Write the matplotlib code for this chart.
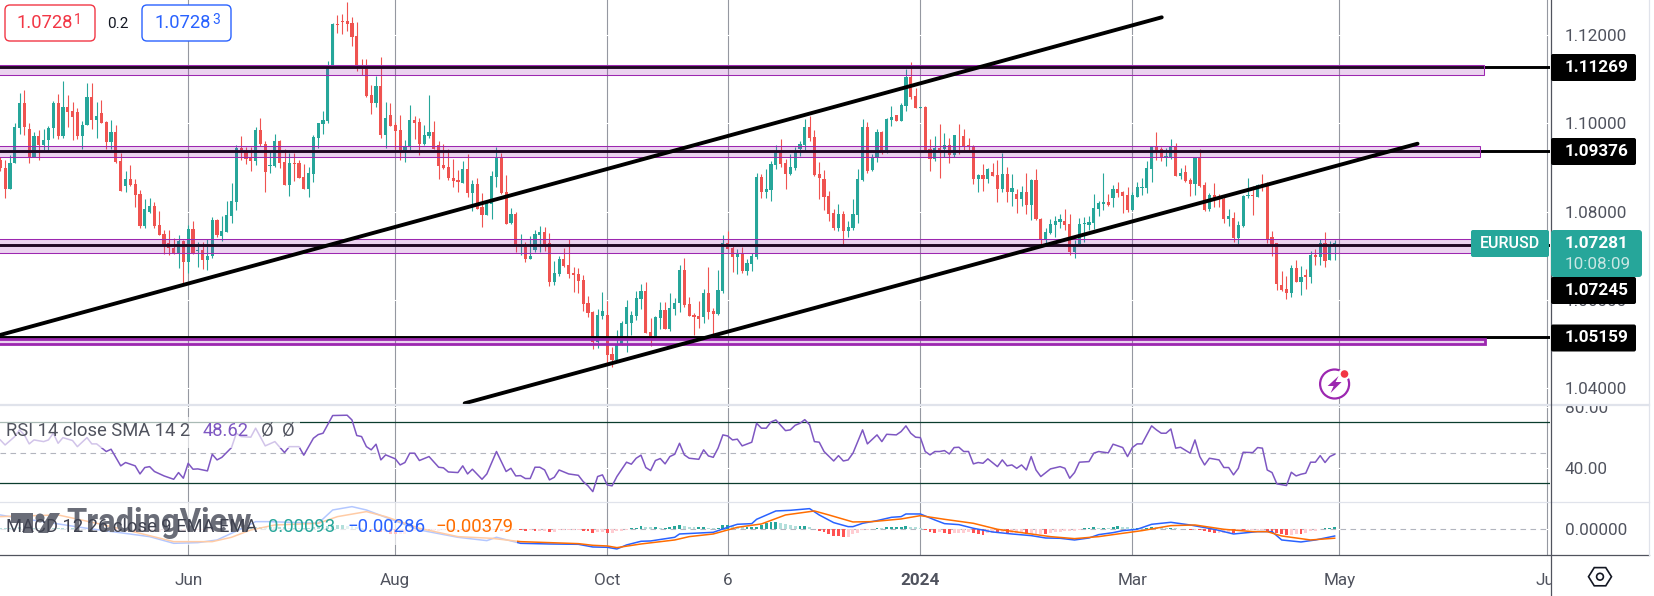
import numpy as np
import matplotlib
matplotlib.use("Agg")
import matplotlib.pyplot as plt
from matplotlib.patches import Rectangle, FancyBboxPatch, Circle, Polygon

plt.rcParams['font.family'] = ['Roboto', 'DejaVu Sans']

W, H = 1654, 596

# daily candles, prices in pips (1.0850 = 10850)
highs = [
    10924,10918,10928,11000,11068,11075,11000,10981,10984,10986,10994,11050,11067,11096,11064,11049,11034,11006,11091,11091,
    11049,11052,11005,11007,10997,10932,10891,10905,10873,10848,10828,10831,10821,10801,10758,10758,10741,10746,10735,10769,
    10779,10732,10732,10739,10788,10784,10790,10824,10864,10952,10971,10947,10947,10991,11012,10960,10938,10975,10962,10942,
    10932,10932,10917,10908,10901,10973,11000,11028,11141,11227,11245,11247,11274,11240,11229,11145,11145,11086,11107,11150,
    11048,11046,11003,11018,10962,11041,11016,11012,10996,11064,11005,10960,10953,10942,10919,10894,10914,10930,10871,10876,
    10842,10821,10892,10946,10932,10883,10808,10799,10749,10731,10744,10758,10767,10765,10751,10688,10699,10717,10738,10674,
    10672,10656,10609,10575,10579,10618,10597,10493,10532,10552,10600,10575,10620,10636,10640,10559,10563,10595,10595,10615,
    10604,10679,10695,10606,10570,10597,10624,10674,10581,10667,10747,10756,10722,10715,10720,10692,10706,10887,10885,10896,
    10914,10951,10964,10919,10930,10946,10960,11009,11016,10985,10912,10894,10846,10806,10817,10801,10778,10828,10896,11009,
    11003,10930,10987,10982,11012,11039,11018,11045,11123,11139,11080,11036,11039,10964,10971,10998,10978,10966,10973,10998,
    10987,10966,10951,10885,10908,10898,10910,10917,10932,10901,10885,10851,10858,10887,10874,10896,10785,10763,10783,10790,
    10794,10806,10794,10735,10785,10787,10790,10840,10824,10887,10840,10860,10867,10846,10855,10844,10867,10876,10914,10946,
    10980,10946,10944,10964,10955,10898,10905,10876,10923,10941,10867,10842,10864,10840,10833,10806,10799,10778,10837,10876,
    10858,10862,10885,10867,10756,10729,10665,10654,10679,10690,10676,10670,10710,10715,10738,10753,10733,10735]
body_top = [
    10918,10898,10909,10992,11045,11045,10988,10971,10971,10963,10989,11046,11046,11037,11037,11027,11025,10997,11059,11059,
    11016,11023,11003,10980,10980,10914,10873,10873,10862,10840,10805,10812,10812,10769,10749,10729,10718,10733,10733,10760,
    10760,10713,10713,10699,10781,10781,10756,10792,10824,10944,10944,10935,10923,10985,10985,10954,10905,10960,10960,10912,
    10910,10910,10910,10878,10887,10969,11000,11007,11125,11225,11225,11231,11231,11227,11197,11130,11132,11064,11084,11084,
    11012,11019,10996,10985,10947,11007,11007,11003,10973,10980,10980,10951,10905,10901,10877,10871,10896,10896,10862,10862,
    10811,10817,10880,10921,10921,10844,10794,10794,10726,10720,10699,10749,10754,10754,10729,10661,10692,10692,10679,10661,
    10658,10645,10593,10572,10565,10575,10565,10477,10498,10547,10584,10565,10604,10620,10620,10527,10561,10577,10577,10581,
    10593,10667,10667,10590,10565,10563,10615,10615,10575,10622,10729,10729,10717,10706,10706,10683,10699,10878,10878,10851,
    10907,10932,10932,10910,10901,10935,10953,10991,10991,10969,10885,10874,10835,10797,10794,10794,10765,10794,10874,10991,
    10991,10921,10980,10980,11009,11014,11018,11041,11105,11105,11062,11036,11037,10942,10944,10944,10951,10951,10973,10972,
    10971,10951,10947,10883,10883,10896,10889,10883,10885,10885,10853,10840,10844,10844,10871,10871,10783,10754,10772,10778,
    10783,10778,10772,10724,10772,10774,10776,10808,10819,10821,10821,10851,10851,10844,10837,10837,10855,10855,10898,10946,
    10946,10942,10926,10946,10946,10887,10889,10871,10921,10921,10860,10837,10837,10831,10828,10790,10785,10769,10835,10837,
    10837,10860,10862,10864,10742,10729,10633,10624,10672,10672,10652,10656,10701,10701,10729,10729,10722,10728]
body_bot = [
    10898,10851,10851,10909,10990,10992,10923,10923,10951,10951,10963,10990,10972,10971,11025,11014,10971,10971,10996,11007,
    11007,11000,10958,10958,10912,10846,10858,10860,10837,10767,10767,10800,10768,10747,10727,10717,10704,10704,10686,10686,
    10704,10711,10690,10690,10699,10746,10744,10754,10790,10821,10939,10919,10914,10914,10953,10889,10904,10903,10910,10860,
    10860,10908,10876,10851,10851,10885,10966,10998,11005,11130,11223,11230,11225,11195,11130,11128,11062,11046,11046,10973,
    10973,10994,10982,10939,10939,10947,11000,10953,10953,10971,10942,10903,10898,10876,10869,10867,10864,10842,10842,10807,
    10792,10792,10818,10878,10842,10772,10774,10726,10724,10692,10692,10713,10747,10726,10640,10640,10658,10676,10658,10656,
    10642,10590,10570,10504,10504,10563,10475,10464,10464,10498,10545,10547,10563,10602,10525,10518,10518,10559,10534,10534,
    10579,10593,10588,10563,10561,10556,10561,10572,10568,10568,10620,10715,10697,10697,10665,10665,10681,10697,10844,10844,
    10849,10905,10907,10885,10885,10898,10942,10951,10966,10883,10876,10833,10794,10763,10763,10756,10756,10763,10792,10871,
    10892,10894,10921,10932,10939,11007,11005,11005,11039,11059,11034,11035,10939,10920,10920,10939,10942,10928,10928,10971,
    10948,10946,10874,10874,10874,10874,10880,10851,10851,10844,10844,10828,10828,10815,10815,10783,10738,10738,10751,10769,
    10776,10769,10708,10708,10726,10772,10769,10774,10806,10818,10815,10830,10842,10835,10803,10803,10833,10854,10853,10896,
    10937,10923,10923,10921,10880,10880,10869,10862,10862,10858,10803,10806,10830,10828,10783,10783,10740,10740,10767,10835,
    10836,10833,10859,10738,10726,10636,10622,10615,10615,10640,10640,10652,10652,10697,10697,10688,10690,10722]
lows = [
    10892,10831,10851,10909,10976,10974,10911,10923,10917,10939,10939,10966,10965,10967,10992,10962,10965,10942,10996,10987,
    10966,11000,10942,10942,10909,10846,10845,10858,10810,10763,10762,10796,10762,10747,10705,10701,10704,10673,10637,10660,
    10704,10675,10669,10667,10696,10743,10734,10754,10775,10803,10917,10908,10892,10905,10948,10844,10887,10901,10898,10860,
    10835,10869,10876,10851,10833,10867,10944,10975,11000,11130,11204,11202,11209,11175,11118,11109,11059,11021,11037,10966,
    10944,10994,10942,10917,10912,10939,10964,10928,10951,10966,10942,10874,10896,10871,10855,10844,10864,10833,10801,10806,
    10765,10792,10783,10855,10839,10772,10772,10708,10701,10686,10692,10708,10708,10710,10631,10633,10654,10674,10649,10618,
    10615,10575,10561,10488,10491,10556,10452,10448,10464,10498,10482,10520,10554,10579,10525,10495,10518,10534,10534,10529,
    10566,10572,10584,10563,10520,10536,10547,10556,10520,10566,10615,10715,10663,10658,10661,10656,10665,10692,10830,10830,
    10824,10896,10901,10851,10883,10894,10926,10937,10960,10880,10828,10803,10778,10758,10756,10726,10742,10758,10774,10869,
    10887,10892,10912,10930,10932,10994,11005,11005,11028,11055,11034,11035,10939,10892,10914,10876,10923,10910,10923,10930,
    10939,10939,10862,10844,10846,10864,10880,10821,10844,10821,10812,10797,10812,10794,10781,10781,10724,10724,10749,10742,
    10763,10758,10701,10695,10726,10731,10758,10760,10790,10803,10812,10810,10833,10797,10799,10803,10833,10837,10842,10867,
    10917,10914,10903,10919,10880,10874,10867,10835,10837,10855,10801,10801,10810,10810,10774,10767,10731,10726,10765,10830,
    10792,10833,10846,10729,10699,10622,10620,10602,10606,10640,10611,10624,10638,10679,10679,10674,10690,10690]
direction = ("RRGGGRRGRGGGRGRRRGGR" "GRRGRRGRRRGGRRRRRGRG" "RGRGGRGGGGRRRGRRGGRR" "GRRRGGGGGGRRRRRRRRGR"
             "GRRRGGRRGGRRRRRRGRGR" "RGGGRRGRGRGGGRRGGRRR" "RRRRGGRRGGGGGGRRGGRG" "GGRRRRGRRGGRRGRGGGRG"
             "GGRRGGGGRRRRRRGRGGGG" "RGGRGGRGGRRGRRGRGRGR" "RRRGRGRRGRGRGRGRRGGG" "GRRGGGGGGGRGRRRGGGGG"
             "RRGGRGRRGRRGRRRGRGGG" "RGRRRRRRGRGRGRGRGG")

# horizontal levels and the zones around them
levels = [1.11269, 1.09376, 1.07245, 1.05159]
zone_low = [1.11083, 1.09226, 1.07074, 1.05001]
zone_high = [1.11332, 1.09475, 1.07391, 1.05126]
zone_end = [307.9, 307.2, 307.2, 308.2]

# channel lines: bar index, price
trend_a_x = [-0.06, 241.1]
trend_a_y = [1.05205, 1.12401]
trend_b_x = [96.4, 294.2]
trend_b_y = [1.03658, 1.09538]

tick_bars = [39, 82, 126, 151, 191, 235, 278, 321]
tick_names = ["Jun", "Aug", "Oct", "6", "2024", "Mar", "May", "Jul"]
price_ticks = [1.04, 1.06, 1.08, 1.10, 1.12]

rsi_bars = [0,1,3,4,5,6,7,9,10,11,12,13,15,16,18,19,20,22,23,25,26,28,29,30,31,32,34,36,37,38,39,40,41,43,44,45,46,48,49,50,
    52,53,55,57,59,60,62,63,65,66,67,69,72,73,74,75,76,77,78,79,80,82,83,84,85,86,87,89,91,92,93,95,96,97,98,100,101,103,105,106,
    107,108,109,110,111,112,113,114,115,116,118,120,121,122,123,124,125,126,127,128,130,131,132,133,134,135,136,137,138,139,140,141,142,143,145,146,147,148,149,150,
    151,152,153,154,156,157,158,159,160,161,163,164,165,166,167,168,169,170,171,173,174,175,176,177,179,180,182,183,184,186,187,188,189,190,191,192,193,194,195,196,
    197,198,199,200,201,202,203,204,205,207,208,209,210,211,212,213,214,215,216,218,220,221,222,223,224,226,227,228,230,231,233,234,235,236,237,239,240,241,242,243,
    244,245,247,248,249,250,251,253,254,255,256,257,258,260,261,262,263,264,265,267,268,269,270,271,272,273,274,275,276,277]
rsi_vals = [58.4,55.1,60.6,65.0,61.7,55.8,58.4,57.3,58.4,62.8,56.2,59.9,58.0,54.0,59.9,55.8,55.8,50.8,52.3,41.4,43.6,41.4,36.1,40.3,40.9,37.7,34.8,32.6,37.0,33.3,43.1,39.2,39.4,38.1,49.0,45.3,47.0,53.4,62.8,60.6,
    60.2,66.1,54.5,57.3,50.1,54.0,54.0,48.4,59.5,61.9,62.8,74.4,74.6,71.5,61.3,60.6,54.0,51.9,55.6,45.3,48.6,46.0,42.0,43.6,49.7,49.7,44.9,47.5,40.5,40.1,37.4,37.0,41.4,36.1,39.2,32.6,36.1,50.8,37.7,39.8,
    34.8,35.0,33.1,33.1,40.5,40.5,38.7,32.2,33.9,38.7,36.1,35.2,31.1,28.3,24.5,34.4,35.5,28.9,28.3,34.4,43.8,42.5,46.4,48.4,40.3,38.3,44.9,46.2,42.7,47.5,49.0,56.2,48.6,46.4,45.7,51.9,47.9,47.0,53.0,61.7,
    61.0,58.4,58.9,54.5,56.9,69.3,66.1,66.1,70.2,71.5,64.5,65.0,68.0,69.3,71.7,68.3,57.3,56.9,50.8,44.6,48.1,44.6,45.3,49.7,65.0,55.8,61.7,57.3,62.1,61.7,63.9,67.6,62.8,60.2,59.9,50.8,48.6,50.8,50.8,51.4,
    49.2,53.4,53.6,50.8,50.8,42.7,43.6,43.1,46.0,40.9,45.3,41.4,42.0,39.8,42.0,38.7,47.5,38.7,34.4,39.4,40.9,39.8,33.3,37.0,43.8,44.2,49.7,50.8,49.9,55.6,53.4,47.5,53.4,55.8,55.8,67.6,65.0,62.8,62.8,65.6,
    53.0,53.6,49.7,58.4,47.5,42.0,46.4,45.3,40.3,40.3,35.5,39.8,50.3,50.1,53.4,53.0,38.7,37.0,29.6,28.5,37.2,34.8,35.9,36.6,43.8,43.8,48.1,43.6,47.5,49.0]

# MACD lines and histogram, in units of 0.00001
macd_bars = [0,2,18,31,36,41,45,51,53,56,66,69,73,76,80,87,95,101,103,108,114,120,123,126,128,130,133,135,140,141,148,151,153,156,157,161,164,168,170,173,
    176,177,179,182,185,187,188,191,194,196,199,202,206,210,214,217,220,223,226,228,231,233,236,239,243,247,252,256,261,264,266,270,273,277]
macd_vals = [610,539,43,-312,-596,-567,-454,113,326,326,255,822,964,822,510,-28,-340,-482,-340,-596,-624,-638,-752,-766,-837,-666,-510,-496,-340,-199,-128,85,213,241,425,780,808,879,610,284,
    113,113,255,369,510,539,652,652,397,241,199,43,-113,-199,-269,-369,-383,-454,-369,-227,-142,-57,0,213,298,184,0,-199,-99,-99,-454,-539,-454,-286]
signal_bars = [0,12,20,29,36,44,48,52,57,66,70,76,80,87,95,102,108,114,120,123,126,128,133,140,143,148,153,158,163,169,172,177,181,187,191,196,202,207,212,218,223,228,233,237,243,248,254,260,263,266,272,277]
signal_vals = [539,610,255,-170,-525,-525,-340,-28,184,255,539,752,539,43,-312,-383,-525,-567,-610,-681,-709,-780,-624,-454,-312,-199,85,227,610,780,610,312,326,440,581,425,255,0,-142,-312,-397,-312,-170,-57,156,184,0,-99,-99,-284,-454,-379]
macd_hist = [56,56,70,70,84,84,70,70,56,56, 42,42,56,56,42,42,28,28,42,42,
    14,14,-14,-28,-42,-56,-70,-84,-98,-112, -112,-112,-98,-98,-84,-84,-84,-70,-70,-56,
    -56,-42,-42,-28,-14,-14,0,14,28,56, 70,84,84,112,112,98,98,84,84,84,
    70,70,56,56,70,98,98,98,126,168, 168,168,154,126,84,42,0,-42,-70,-112,
    -112,-182,-210,-210,-182,-126,-84,-56,-42,-56, -56,-56,-42,-42,-42,-28,-42,-56,-56,-56,
    -42,-42,-28,-42,-56,-28,-28,-14,-42,-56, -42,-56,-56,-56,-112,-112,-42,-28,-28,-28,
    -28,-56,-84,-140,-112,-112,-140,-140,-84,-56, -14,42,70,126,112,84,84,70,70,84,
    140,168,140,112,84,84,84,56,42,56, 168,168,140,112,98,112,112,112,182,252,
    294,322,252,224,168,140,140,140,98,14, -56,-98,-210,-280,-294,-308,-308,-196,-168,-42,
    -28,14,70,42,98,98,98,112,140,112, 98,42,-42,-112,-140,-112,-168,-182,-168,-140,
    -140,-112,-168,-196,-238,-140,-140,-168,-112,-168, -168,-168,-168,-182,-182,-182,-182,-196,-140,-112,
    -112,-84,-84,-56,-28,42,70,84,70,70, 56,112,126,112,84,70,70,42,70,112,
    98,84,70,70,56,28,0,-28,-14,-28, -84,-126,-140,-140,-140,-140,-168,-28,-42,-42,
    -28,-28,-28,-98,-140,-168,-210,-238,-224,-182, -196,-168,-84,-56,28,42,42,93]

GREEN, RED = '#26a69a', '#ef5350'
PURPLE = '#9c27b0'
GRAY_TXT = '#50535e'
LEFT, RIGHT = -0.06, 321.7   # bar range that fills the panes


def pane(top, bottom):
    return fig.add_axes([0, 1 - bottom / H, 1550 / W, (bottom - top) / H])


fig = plt.figure(figsize=(W / 100, H / 100), dpi=100, facecolor='white')
ax = pane(0, 405)
ax_rsi = pane(405, 501.7)
ax_macd = pane(501.7, 555.3)

for a in (ax, ax_rsi, ax_macd):
    a.set_xlim(LEFT, RIGHT)
    a.set_xticks(tick_bars)
    a.grid(True, axis='x', color='#9598a1', lw=0.8)
    a.grid(True, axis='y', color='white', lw=0.8)
    a.set_axisbelow(True)
    for s in a.spines.values():
        s.set_visible(False)
    a.yaxis.tick_right()
    a.tick_params(axis='both', length=0, labelcolor=GRAY_TXT, labelsize=12.3, pad=10.6)
    a.tick_params(axis='x', labelbottom=False)

# candles
bars = np.arange(len(highs))
hi = np.array(highs) / 1e4
lo = np.array(lows) / 1e4
top = np.array(body_top) / 1e4
bot = np.array(body_bot) / 1e4
cols = [GREEN if d == 'G' else RED for d in direction]
ax.vlines(bars, lo, hi, colors=cols, lw=0.8, zorder=2)
ax.bar(bars, np.maximum(top - bot, 0.00012), bottom=bot, width=0.66, color=cols, lw=0, zorder=2.1)

ax.set_ylim(1.0362, 1.12793)
ax.set_yticks(price_ticks)
ax.set_yticklabels(["%.5f" % p for p in price_ticks])

for lev in levels:
    ax.axhline(lev, color='black', lw=2.1, zorder=3)
for i in range(len(levels)):
    thin = i == 3
    ax.add_patch(Rectangle((-3, zone_low[i]), zone_end[i] + 3, zone_high[i] - zone_low[i],
                           facecolor=(0.612, 0.153, 0.69, 0.2), edgecolor=PURPLE,
                           lw=2.0 if thin else 0.75, zorder=4))
ax.plot(trend_a_x, trend_a_y, color='black', lw=2.8, solid_capstyle='round', zorder=5)
ax.plot(trend_b_x, trend_b_y, color='black', lw=2.8, solid_capstyle='round', zorder=5)

# RSI
ax_rsi.set_ylim(17.9, 81.3)
ax_rsi.set_yticks([40, 80])
ax_rsi.set_yticklabels(["40.00", "80.00"])
ax_rsi.axhline(70, color='#0b3d2e', lw=0.9)
ax_rsi.axhline(30, color='#0b3d2e', lw=0.9)
ax_rsi.axhline(50, color='#b2b5be', lw=0.8, dashes=(5, 4))
ax_rsi.plot(rsi_bars, rsi_vals, color='#7e57c2', lw=1.1, zorder=3)

# MACD
hist_cols = []
for i, v in enumerate(macd_hist):
    prev = macd_hist[i - 1] if i else v
    if v >= 0:
        hist_cols.append('#26a69a' if v >= prev else '#b2dfdb')
    else:
        hist_cols.append('#ffcdd2' if v >= prev else '#ff5252')
ax_macd.bar(bars, np.array(macd_hist) / 1e5, width=0.6, color=hist_cols, lw=0, zorder=2)
ax_macd.axhline(0, color='#b2b5be', lw=0.8, dashes=(5, 4), zorder=1.5)
ax_macd.plot(macd_bars, np.array(macd_vals) / 1e5, color='#2962ff', lw=1.1, zorder=3)
ax_macd.plot(signal_bars, np.array(signal_vals) / 1e5, color='#ff6d00', lw=1.1, zorder=3.1)
ax_macd.set_ylim(-0.01106, 0.01174)
ax_macd.set_yticks([0])
ax_macd.set_yticklabels(["0.00000"])

ax_macd.tick_params(axis='x', labelbottom=True, pad=13)
ax_macd.set_xticklabels(tick_names)
for lab, name in zip(ax_macd.get_xticklabels(), tick_names):
    if name == "2024":
        lab.set_fontweight('bold')

# everything that sits on top of the panes, in pixel coordinates
ov = fig.add_axes([0, 0, 1, 1], zorder=10)
ov.set_xlim(0, W)
ov.set_ylim(H, 0)
ov.axis('off')


def box(x0, y0, x1, y1, face, edge='none', r=4, lw=1.0, z=5, alpha=None):
    p = FancyBboxPatch((x0 + r, y0 + r), x1 - x0 - 2 * r, y1 - y0 - 2 * r,
                       boxstyle="round,pad=%g,rounding_size=%g" % (r, r),
                       facecolor=face, edgecolor=edge, lw=lw, zorder=z, alpha=alpha)
    ov.add_patch(p)


# bid / ask badges
box(5, 5, 95, 41, 'white', '#f23645', r=5)
box(142, 5, 231, 41, 'white', '#2962ff', r=5)
ov.text(17, 23.5, "1.0728", color='#f23645', fontsize=13.2, va='center', zorder=6)
ov.text(73.5, 20.5, "1", color='#f23645', fontsize=10, va='center', zorder=6)
ov.text(107, 23.5, "0.2", color='#131722', fontsize=11, va='center', zorder=6)
ov.text(155, 23.5, "1.0728", color='#2962ff', fontsize=13.2, va='center', zorder=6)
ov.text(212, 20.5, "3", color='#2962ff', fontsize=10, va='center', zorder=6)

# pane separators and scale borders
ov.add_patch(Rectangle((1551, 397), 97, 8, facecolor='white', lw=0, zorder=3))
ov.add_patch(Rectangle((1551, 556), 103, 40, facecolor='white', lw=0, zorder=3))
ov.plot([0, 1649], [405, 405], color='#e0e3eb', lw=1.6, zorder=3.2)
ov.plot([0, 1649], [501.7, 501.7], color='#e0e3eb', lw=0.9, zorder=3.2)
ov.plot([0, 1649], [555.3, 555.3], color='#50535e', lw=0.9, zorder=3.2)
ov.plot([1550.5, 1550.5], [0, H], color='#50535e', lw=0.9, zorder=3.2)
ov.plot([1649, 1649], [0, 555], color='#e0e3eb', lw=0.9, zorder=3.2)

# price tags
tag_tops = [54, 138, 277, 324.5]
tag_names = ["%.5f" % v for v in levels]
for t, name in zip(tag_tops, tag_names):
    box(1551, t, 1636, t + 27, 'black', r=2, z=4)
    ov.text(1564.5, t + 13.5, name, color='white', fontsize=12.3, fontweight='bold', va='center', zorder=6)
box(1551, 230, 1642, 277, GREEN, r=3, z=4.5)
box(1471, 230, 1549, 257, GREEN, r=2, z=4.5)
ov.text(1510, 243.5, "EURUSD", color='white', fontsize=11.5, fontweight='medium', ha='center', va='center', zorder=6)
ov.text(1564.5, 243.5, "1.07281", color='white', fontsize=12.3, fontweight='bold', va='center', zorder=6)
ov.text(1564.5, 264.5, "10:08:09", color='#c8e6e3', fontsize=12.3, va='center', zorder=6)

# lightning badge
ov.add_patch(Circle((1334.6, 384), 14.5, facecolor='white', edgecolor=PURPLE, lw=1.6, zorder=5))
bolt = np.array([[4, -8], [-7, 2], [-1, 2], [-4, 9], [7, -2], [1, -2]]) + [1334.6, 384]
ov.add_patch(Polygon(bolt, facecolor=PURPLE, lw=0, zorder=5.1))
ov.add_patch(Circle((1344.5, 374), 6, facecolor='white', lw=0, zorder=5.2))
ov.add_patch(Circle((1344.5, 374), 3.8, facecolor='#f23645', lw=0, zorder=5.3))

# settings hexagon
ang = np.radians(np.arange(0, 360, 60))
ov.add_patch(Polygon(np.c_[1600 + 11.5 * np.cos(ang), 576.7 + 10.5 * np.sin(ang)], fill=False,
                     edgecolor='#131722', lw=1.2, zorder=5))
ov.add_patch(Circle((1600, 576.7), 3.4, fill=False, edgecolor='#131722', lw=1.2, zorder=5))

# pane legends: faded backing first, then the watermark, then the text
ov.add_patch(Rectangle((0, 417), 300, 31, facecolor='white', alpha=0.65, lw=0, zorder=0.5))
ov.add_patch(Rectangle((0, 503), 517, 42, facecolor='white', alpha=0.65, lw=0, zorder=0.5))

wm = '#6a6d78'
ov.add_patch(Polygon([(11, 513), (33, 513), (33, 533), (23, 533), (23, 523), (11, 523)], facecolor=wm, lw=0, zorder=1))
ov.add_patch(Circle((40, 518), 4.5, facecolor=wm, lw=0, zorder=1))
ov.add_patch(Polygon([(38, 533), (50, 513), (60, 513), (48, 533)], facecolor=wm, lw=0, zorder=1))
ov.text(66, 523, "TradingView", color=wm, fontsize=23.6, fontweight='bold', va='center', zorder=1)

ov.text(6, 430.5, "RSI 14 close SMA 14 2", color=GRAY_TXT, fontsize=13.2, va='center', zorder=2)
ov.text(203, 430.5, "48.62", color='#7e57c2', fontsize=13.2, va='center', zorder=2)
ov.text(261, 430.5, "Ø", color=GRAY_TXT, fontsize=13.2, va='center', zorder=2)
ov.text(282, 430.5, "Ø", color=GRAY_TXT, fontsize=13.2, va='center', zorder=2)
ov.text(6, 527, "MACD 12 26 close 9 EMA EMA", color='#3f4250', fontsize=13.2, va='center', zorder=2)
ov.text(268, 527, "0.00093", color=GREEN, fontsize=13.4, va='center', zorder=2)
ov.text(347, 527, "\u22120.00286", color='#2962ff', fontsize=13.4, va='center', zorder=2)
ov.text(435, 527, "\u22120.00379", color='#ff6d00', fontsize=13.4, va='center', zorder=2)

fig.savefig("out.png", dpi=100)
